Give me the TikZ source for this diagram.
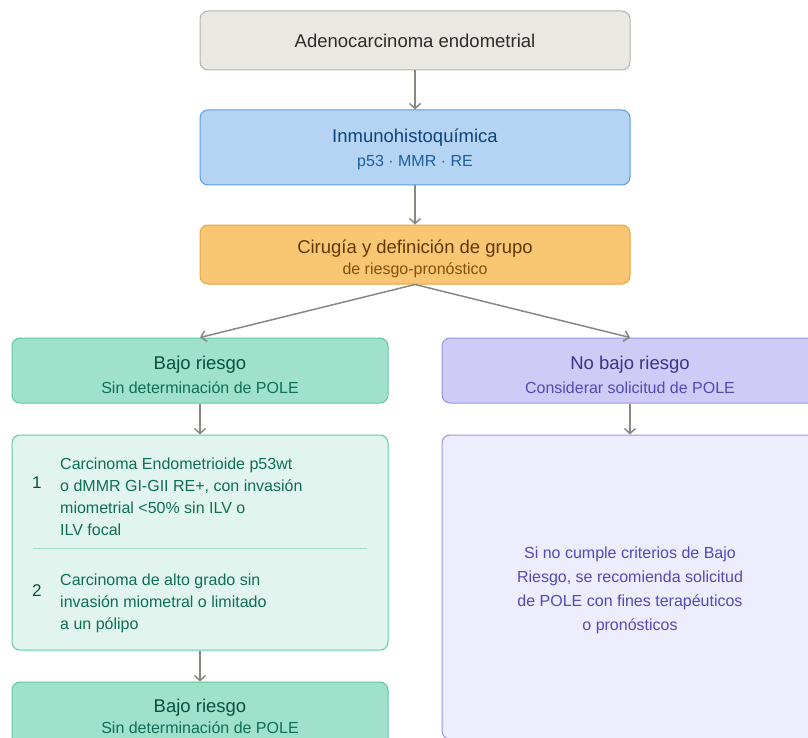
\documentclass[tikz,border=0pt]{standalone}
\usepackage{fontspec}
\setmainfont{Liberation Sans}
\usetikzlibrary{arrows.meta}
\definecolor{grisfondo}{HTML}{E9E8E3}
\definecolor{grisborde}{HTML}{B4B2A9}
\definecolor{gristexto}{HTML}{2C2C2A}
\definecolor{azulfondo}{HTML}{B5D4F4}
\definecolor{azulborde}{HTML}{5A9BE0}
\definecolor{azultexto}{HTML}{0C447C}
\definecolor{azulsub}{HTML}{185FA5}
\definecolor{ambarfondo}{HTML}{F9C673}
\definecolor{ambarborde}{HTML}{EBA33A}
\definecolor{ambartexto}{HTML}{633806}
\definecolor{ambarsub}{HTML}{854F0B}
\definecolor{verdefondo}{HTML}{9FE1CB}
\definecolor{verdeclaro}{HTML}{E1F5EE}
\definecolor{verdeborde}{HTML}{5DCAA5}
\definecolor{verdetexto}{HTML}{085041}
\definecolor{verdesub}{HTML}{0F6E56}
\definecolor{moradofondo}{HTML}{CECBF6}
\definecolor{moradoclaro}{HTML}{EEEDFE}
\definecolor{moradoborde}{HTML}{9B94E6}
\definecolor{moradotexto}{HTML}{3C3489}
\definecolor{moradosub}{HTML}{534AB7}
\definecolor{flecha}{HTML}{888780}
\newcommand{\titulo}[1]{{\fontsize{18.5}{24}\selectfont #1}}
\newcommand{\subtit}[1]{{\fontsize{16}{24}\selectfont #1}}
\begin{document}
\begin{tikzpicture}[x=1pt,y=-1pt,
  caja/.style={draw, rounded corners=8pt, line width=1pt, align=center, inner sep=0pt, font=\fontsize{16}{24}\selectfont},
  texto/.style={font=\fontsize{16}{22}\selectfont, align=left, anchor=west, inner sep=0pt},
  flechita/.style={draw, line width=1.5pt, flecha, -{Straight Barb[length=5pt,width=11pt]}}]
\useasboundingbox (0,0) rectangle (808,738);
\clip (0,0) rectangle (808,738);
% cajas centrales
\node[caja, fill=grisfondo, draw=grisborde, text=gristexto, minimum width=430pt, minimum height=59pt] (1) at (415,40.5) {\titulo{Adenocarcinoma endometrial}};
\node[caja, fill=azulfondo, draw=azulborde, text=azultexto, minimum width=430pt, minimum height=75pt] (2) at (415,147.5) {\rule{0pt}{17pt}\titulo{Inmunohistoquímica}\\ \color{azulsub}\subtit{p53 · MMR · RE}};
\node[caja, fill=ambarfondo, draw=ambarborde, text=ambartexto, minimum width=430pt, minimum height=59pt] (3) at (415,254.5) {\rule{0pt}{23pt}\titulo{Cirugía y definición de grupo}\\[-3pt] \color{ambarsub}\subtit{de riesgo-pronóstico}};
% rama izquierda
\node[caja, fill=verdefondo, draw=verdeborde, text=verdetexto, minimum width=376pt, minimum height=65pt] (4) at (200,370.5) {\rule{0pt}{23pt}\titulo{Bajo riesgo}\\ \color{verdesub}\subtit{Sin determinación de POLE}};
\node[caja, fill=verdeclaro, draw=verdeborde, minimum width=376pt, minimum height=215pt] (5) at (200,542.5) {};
\node[caja, fill=verdefondo, draw=verdeborde, text=verdetexto, minimum width=376pt, minimum height=65pt] (6) at (200,714.5) {\rule{0pt}{17pt}\titulo{Bajo riesgo}\\[-3pt] \color{verdesub}\subtit{Sin determinación de POLE}};
\node[texto, text=verdetexto, font=\fontsize{17}{22}\selectfont] (n1) at (32,483) {1};
\node[texto, text=verdesub] (t1) at (60,497) {Carcinoma Endometrioide p53wt\\ o dMMR GI-GII RE+, con invasión\\ miometrial <50\% sin ILV o\\ ILV focal};
\node[texto, text=verdetexto, font=\fontsize{17}{22}\selectfont] (n2) at (32,591) {2};
\node[texto, text=verdesub] (t2) at (60,603) {Carcinoma de alto grado sin\\ invasión miometral o limitado\\ a un pólipo};
\draw[verdeborde!60, line width=0.8pt] (33,548) -- (367,548);
% rama derecha
\node[caja, fill=moradofondo, draw=moradoborde, text=moradotexto, minimum width=376pt, minimum height=65pt] (7) at (630,370.5) {\rule{0pt}{23pt}\titulo{No bajo riesgo}\\ \color{moradosub}\subtit{Considerar solicitud de POLE}};
\node[caja, fill=moradoclaro, draw=moradoborde, text=moradosub, minimum width=376pt, minimum height=304pt] (8) at (630,587) {\rule{0pt}{18pt}Si no cumple criterios de Bajo\\ Riesgo, se recomienda solicitud\\ de POLE con fines terapéuticos\\ o pronósticos};
% flechas
\path[flechita] (1) -- (2);
\path[flechita] (2) -- (3);
\path[flechita] (3.south) -- (4.north);
\path[flechita] (3.south) -- (7.north);
\path[flechita] (4) -- (5);
\path[flechita] (5) -- (6);
\path[flechita] (7) -- (8);
\end{tikzpicture}
\end{document}
